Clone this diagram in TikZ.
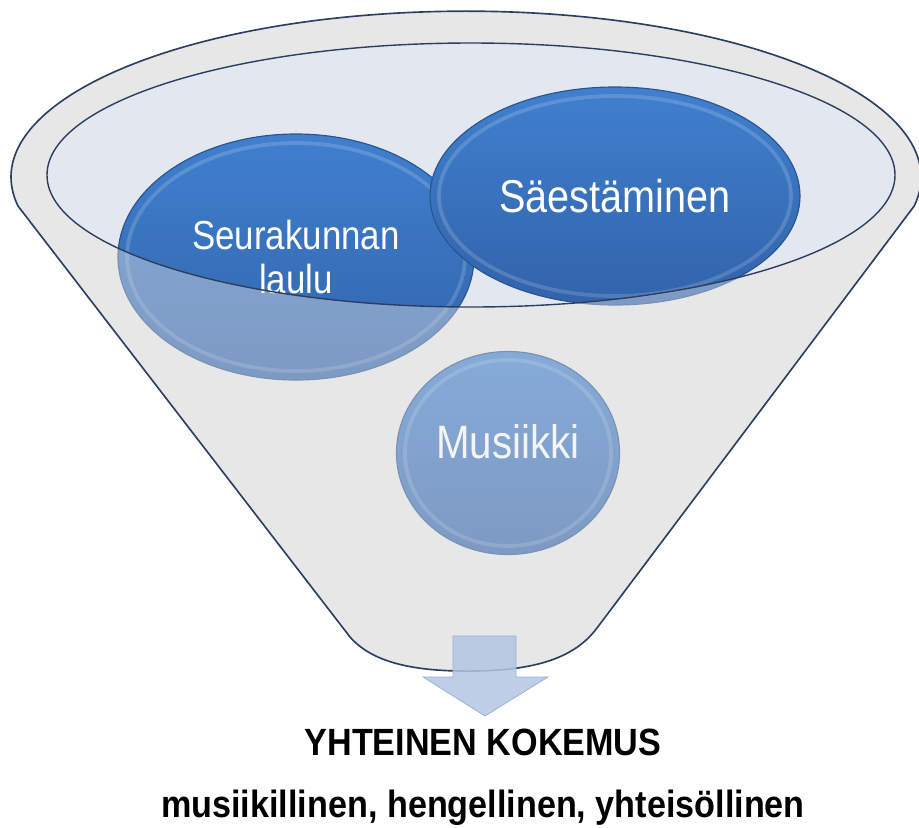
\documentclass[tikz,border=0pt]{standalone}
\usepackage{fontspec}
\usetikzlibrary{shapes.geometric}
\newfontfamily\ballfont[FakeStretch=0.86]{Liberation Sans}
\newfontfamily\capfont[FakeStretch=0.9]{Liberation Sans}
\definecolor{rimline}{HTML}{2D3F60}
\definecolor{funnelgray}{HTML}{E7E7E7}
\definecolor{innerblue}{HTML}{E3E8F0}
\definecolor{balltop}{HTML}{4080CF}
\definecolor{ballbottom}{HTML}{3163AA}
\definecolor{balledge}{HTML}{2B5590}
\definecolor{arrowblue}{HTML}{B3C5E3}
\definecolor{arrowedge}{HTML}{98AFD4}
\def\funnelbody{(18,206) arc[start angle=170, end angle=370, x radius=455, y radius=166] -- (597,628) .. controls (576,656) and (540,670) .. (476,671) .. controls (412,672) and (372,662) .. (350,637) -- cycle}
\def\rimellipse{(471,175) ellipse[x radius=424, y radius=132]}
\def\bevel(#1)(#2:#3){\draw[bevelring] (#1) ellipse[x radius=#2, y radius=#3];}
\tikzset{
	ball/.style={ellipse, draw=balledge, line width=1pt, top color=balltop, bottom color=ballbottom, text=white, align=center, inner sep=0pt, outer sep=0pt},
	bevelring/.style={draw=white, draw opacity=0.16, line width=3.2pt},
	caption/.style={anchor=base, font=\capfont\bfseries\fontsize{32.4pt}{36pt}\selectfont}
}

\begin{document}
\begin{tikzpicture}[x=0.03cm, y=-0.03cm]
		%%%%% START %%%%%
		\useasboundingbox (0,0) rectangle (919,827);
		
		\fill[funnelgray] \funnelbody;
		\fill[innerblue] \rimellipse;
		
		\node[ball, minimum width=10.68cm, minimum height=7.38cm, font=\ballfont\fontsize{34.6pt}{38.4pt}\selectfont] (laulu) at (296,257) {Seurakunnan\\laulu};
		\bevel(laulu.center)(169:114)
		\node[ball, minimum width=11.1cm, minimum height=6.54cm, font=\ballfont\fontsize{39.3pt}{44pt}\selectfont] (saesto) at (615,196) {Säestäminen};
		\bevel(saesto.center)(176:100)
		\node[ball, minimum width=6.69cm, minimum height=6.09cm, text depth=0.66cm, font=\ballfont\fontsize{40pt}{44pt}\selectfont] (musiikki) at (508,453) {Musiikki};
		\bevel(musiikki.center)(103:93)
		
		% front of the funnel over the balls
		\fill[funnelgray, fill opacity=0.42, even odd rule] \funnelbody \rimellipse;
		
		\draw[rimline, line width=1.4pt] \funnelbody;
		\draw[rimline, line width=1.2pt] \rimellipse;
		
		\draw[arrowedge, fill=arrowblue, fill opacity=0.85, line width=0.6pt] (453,636) -- (516,636) -- (516,677) -- (548,677) -- (485,716) -- (423,677) -- (453,677) -- cycle;
		
		\node[caption] (kokemus) at (483,755) {YHTEINEN KOKEMUS};
		\node[caption] (laadut) at (483,817) {musiikillinen, hengellinen, yhteisöllinen};
		%%%%% END %%%%%
\end{tikzpicture}
\end{document}
